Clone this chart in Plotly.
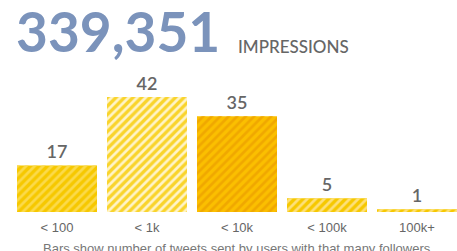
import plotly.graph_objects as go

categories = ["< 100", "< 1k", "< 10k", "< 100k", "100k+"]
tweets = [17, 42, 35, 5, 1]
total_impressions = "339,351"
bg_colors = ["#f6c800", "#f9d42c", "#fbbf00", "#f6c800", "#f6c800"]
fg_colors = ["#fbda4a", "#fff4c8", "#f0a800", "#fde07a", "#fde07a"]

W, H = 457, 251
plot_top, plot_bottom = 70, 212
px_per_unit = (212 - 97) / 42.0
y_max = (plot_bottom - plot_top) / px_per_unit
plot_h = plot_bottom - plot_top
xs = list(range(len(categories)))

fig = go.Figure()
# solid base fill
fig.add_trace(go.Bar(
    x=xs, y=tweets,
    marker=dict(color=bg_colors, line=dict(width=0)),
    hoverinfo="skip",
))
# diagonal stripes on top, with the value labels
fig.add_trace(go.Bar(
    x=xs, y=tweets,
    text=[str(v) for v in tweets],
    textposition="outside",
    textfont=dict(family="Lato", size=18, color="#666666", weight=600),
    cliponaxis=False,
    marker=dict(
        color=fg_colors,
        line=dict(width=0),
        pattern=dict(shape="/", bgcolor="rgba(0,0,0,0)",
                     size=6, solidity=0.45, fillmode="replace"),
    ),
    hoverinfo="skip",
))

fig.add_annotation(text=total_impressions, xref="paper", yref="paper",
                   x=(14 - 12) / 445, y=(plot_bottom - 66) / plot_h,
                   xanchor="left", yanchor="bottom", showarrow=False,
                   font=dict(family="Lato", size=55, color="#7b93bb", weight=700))
fig.add_annotation(text="IMPRESSIONS", xref="paper", yref="paper",
                   x=(236 - 12) / 445, y=(plot_bottom - 59) / plot_h,
                   xanchor="left", yanchor="bottom", showarrow=False,
                   font=dict(family="Lato", size=17, color="#666666", weight=500))
fig.add_annotation(text="Bars show number of tweets sent by users with that many followers",
                   xref="paper", yref="paper",
                   x=(237 - 12) / 445, y=(plot_bottom - 239) / plot_h,
                   xanchor="center", yanchor="top", showarrow=False,
                   font=dict(family="Liberation Sans, Arial", size=13, color="#777777"))

fig.update_layout(
    width=W, height=H,
    margin=dict(l=12, r=0, t=plot_top, b=H - plot_bottom, pad=0),
    paper_bgcolor="white", plot_bgcolor="white",
    barmode="overlay",
    bargap=10 / 90,
    showlegend=False,
    xaxis=dict(tickmode="array", tickvals=xs, ticktext=categories,
               range=[-0.5, 4.5 - 5 / 90], showgrid=False, zeroline=False, showline=False,
               ticks="", ticklabelstandoff=6,
               tickfont=dict(family="Liberation Sans, Arial", size=13, color="#666666"),
               fixedrange=True, automargin=False),
    yaxis=dict(range=[0, y_max], visible=False, fixedrange=True),
)

fig.write_html("out.html", config={"displayModeBar": False},
               post_script="document.body.style.margin='0';document.body.style.overflow='hidden';")
